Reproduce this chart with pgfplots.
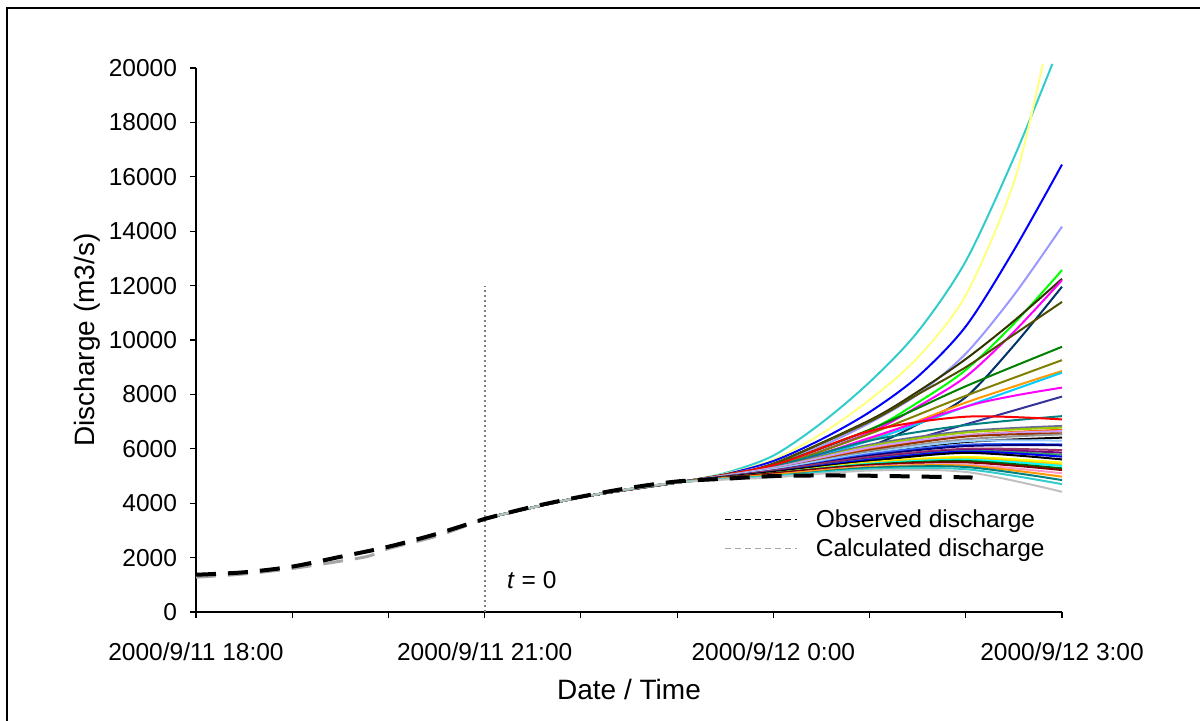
\documentclass[border=0pt]{standalone}
\usepackage{fontspec}
\setmainfont{Liberation Sans}
\usepackage{pgfplots}
\pgfplotsset{compat=1.18}

% Excel-style palette
\definecolor{xcyan}{HTML}{33CCCC}
\definecolor{xpaleyel}{HTML}{FFFF80}
\definecolor{xblue}{HTML}{0000FF}
\definecolor{xlav}{HTML}{9999FF}
\definecolor{xlime}{HTML}{00FF00}
\definecolor{xdarkol}{HTML}{333300}
\definecolor{xmag}{HTML}{FF00FF}
\definecolor{xdteal}{HTML}{003366}
\definecolor{xbrol}{HTML}{4D4D00}
\definecolor{xgreen}{HTML}{008000}
\definecolor{xolive}{HTML}{808000}
\definecolor{xorange}{HTML}{FF9900}
\definecolor{xsky}{HTML}{00CCFF}
\definecolor{xslate}{HTML}{333399}
\definecolor{xteal}{HTML}{008080}
\definecolor{xred}{HTML}{FF0000}
\definecolor{xgblue}{HTML}{666699}
\definecolor{xyg}{HTML}{99CC00}
\definecolor{xlpur}{HTML}{CC99FF}
\definecolor{xbrown}{HTML}{993300}
\definecolor{xgray}{HTML}{969696}
\definecolor{xroyal}{HTML}{3366FF}
\definecolor{xnavy}{HTML}{000080}
\definecolor{xpurple}{HTML}{800080}
\definecolor{xyellow}{HTML}{FFFF00}
\definecolor{xaqua}{HTML}{00FFFF}
\definecolor{xmaroon}{HTML}{800000}
\definecolor{xpink}{HTML}{FF99CC}
\definecolor{xlgray}{HTML}{C0C0C0}
\definecolor{xsea}{HTML}{339966}
\definecolor{xplum}{HTML}{993366}
\definecolor{xgold}{HTML}{FFCC00}
\definecolor{xlblue}{HTML}{99CCFF}
\definecolor{xdgreen}{HTML}{006600}
\definecolor{xdorange}{HTML}{FF6600}
\definecolor{calcgray}{HTML}{A6A6A6}

\begin{document}
\begin{tikzpicture}
\begin{axis}[
    scale only axis,
    width=433pt, height=272pt,
    xmin=0, xmax=9, ymin=0, ymax=20000,
    clip=false,
    axis x line*=bottom, axis y line*=left,
    axis line style={black, line width=0.6pt},
    xtick={0,...,9},
    xticklabels={2000/9/11 18:00,,,2000/9/11 21:00,,,2000/9/12 0:00,,,2000/9/12 3:00},
    ytick={0,2000,...,20000},
    scaled y ticks=false,
    yticklabel style={/pgf/number format/1000 sep={}, xshift=-3pt},
    xticklabel style={yshift=-9pt},
    /pgf/number format/assume math mode=true,
    tick align=outside, major tick length=3pt,
    tick style={black, line width=0.6pt},
    tick label style={font=\fontsize{12.25}{14}\selectfont},
    label style={font=\fontsize{14}{16}\selectfont},
    xlabel={Date / Time}, ylabel={Discharge (m3/s)},
    xlabel style={at={(axis description cs:0.5,-0.143)}, anchor=center},
    ylabel style={at={(axis description cs:-0.125,0.5)}, anchor=center},
    legend style={at={(axis cs:5.49,3930)}, anchor=north west, draw=none, fill=none,
        inner sep=0pt, row sep=0pt, font=\fontsize{12.25}{14}\selectfont,
        /tikz/every odd column/.append style={column sep=7pt}},
    legend cell align=left,
    reverse legend,
    ens/.style={smooth, line width=1pt, forget plot},
]

% ensemble forecasts from t = 0
\addplot[ens, xcyan] coordinates {(3,3440)(4,4220)(5,4760)(5.5,5110)(6,5750)(6.5,6950)(7,8450)(7.5,10300)(8,12900)(8.5,16700)(8.9,20150)};
\addplot[ens, xpaleyel] coordinates {(3,3440)(4,4220)(5,4760)(5.5,5080)(6,5600)(6.5,6550)(7,7800)(7.5,9350)(8,11650)(8.5,15800)(8.8,20150)};
\addplot[ens, xblue] coordinates {(3,3440)(4,4220)(5,4760)(5.5,5060)(6,5550)(6.5,6350)(7,7350)(7.5,8650)(8,10500)(8.5,13300)(9,16450)};
\addplot[ens, xlav] coordinates {(3,3440)(4,4220)(5,4760)(5.5,5040)(6,5450)(6.5,6100)(7,6950)(7.5,8000)(8,9500)(8.5,11650)(9,14170)};
\addplot[ens, xlime] coordinates {(3,3440)(4,4220)(5,4760)(5.5,5030)(6,5400)(7,6700)(7.5,7700)(8,8900)(8.5,10600)(9,12570)};
\addplot[ens, xdarkol] coordinates {(3,3440)(4,4220)(5,4760)(5.5,5050)(6,5450)(7,7050)(7.5,8100)(8,9300)(8.5,10700)(9,12250)};
\addplot[ens, xmag] coordinates {(3,3440)(4,4220)(5,4760)(6,5350)(7,6600)(7.5,7550)(8,8650)(8.5,10300)(9,12200)};
\addplot[ens, xdteal] coordinates {(3,3440)(4,4220)(5,4760)(6,5200)(7,6100)(7.5,6900)(8,7900)(8.5,9800)(9,11960)};
\addplot[ens, xbrol] coordinates {(3,3440)(4,4220)(5,4760)(5.5,5050)(6,5450)(7,7000)(7.5,8000)(8,9000)(8.5,10200)(9,11400)};
\addplot[ens, xgreen] coordinates {(3,3440)(4,4220)(5,4760)(5.5,5030)(6,5400)(7,6700)(8,8300)(9,9750)};
\addplot[ens, xolive] coordinates {(3,3440)(4,4220)(5,4760)(6,5350)(7,6550)(8,7950)(9,9260)};
\addplot[ens, xorange] coordinates {(3,3440)(4,4220)(5,4760)(6,5300)(7,6350)(8,7700)(9,8860)};
\addplot[ens, xsky] coordinates {(3,3440)(4,4220)(5,4760)(6,5300)(7,6300)(8,7550)(9,8800)};
\addplot[ens, xmag] coordinates {(3,3440)(4,4220)(5,4760)(6,5300)(7,6400)(8,7550)(8.5,7950)(9,8250)};
\addplot[ens, xslate] coordinates {(3,3440)(4,4220)(5,4760)(6,5200)(7,5900)(8,6900)(9,7920)};
\addplot[ens, xteal] coordinates {(3,3440)(4,4220)(5,4760)(6,5350)(7,6300)(8,6870)(9,7200)};
\addplot[ens, xred] coordinates {(3,3440)(4,4220)(5,4760)(6,5400)(7,6650)(8,7180)(9,7080)};
\addplot[ens, xgblue] coordinates {(3,3440)(4,4220)(5,4760)(6,5300)(7,6150)(8,6650)(9,6840)};
\addplot[ens, xyg] coordinates {(3,3440)(4,4220)(5,4760)(6,5300)(7,6100)(8,6600)(9,6780)};
\addplot[ens, xdorange] coordinates {(3,3440)(4,4220)(5,4760)(6,5250)(7,6000)(8,6500)(9,6700)};
\addplot[ens, xlpur] coordinates {(3,3440)(4,4220)(5,4760)(6,5300)(7,6050)(8,6500)(9,6650)};
\addplot[ens, xbrown] coordinates {(3,3440)(4,4220)(5,4760)(6,5250)(7,5950)(8,6450)(9,6570)};
\addplot[ens, xgray] coordinates {(3,3440)(4,4220)(5,4760)(6,5250)(7,5900)(8,6350)(9,6530)};
\addplot[ens, black] coordinates {(3,3440)(4,4220)(5,4760)(6,5200)(7,5850)(8,6250)(9,6410)};
\addplot[ens, xlblue] coordinates {(3,3440)(4,4220)(5,4760)(6,5250)(7,5850)(8,6280)(9,6300)};
\addplot[ens, xroyal] coordinates {(3,3440)(4,4220)(5,4760)(6,5200)(7,5800)(8,6150)(9,6160)};
\addplot[ens, xnavy] coordinates {(3,3440)(4,4220)(5,4760)(6,5200)(7,5750)(8,6100)(9,6130)};
\addplot[ens, xplum] coordinates {(3,3440)(4,4220)(5,4760)(6,5200)(7,5700)(8,6000)(9,5950)};
\addplot[ens, xpurple] coordinates {(3,3440)(4,4220)(5,4760)(6,5150)(7,5650)(8,5950)(9,5860)};
\addplot[ens, xsea] coordinates {(3,3440)(4,4220)(5,4760)(6,5150)(7,5620)(8,5920)(9,5780)};
\addplot[ens, xblue] coordinates {(3,3440)(4,4220)(5,4760)(6,5150)(7,5600)(8,5900)(9,5710)};
\addplot[ens, black] coordinates {(3,3440)(4,4220)(5,4760)(6,5150)(7,5550)(8,5850)(9,5610)};
\addplot[ens, xyellow] coordinates {(3,3440)(4,4220)(5,4760)(6,5100)(7,5500)(8,5700)(9,5490)};
\addplot[ens, xgold] coordinates {(3,3440)(4,4220)(5,4760)(6,5100)(7,5480)(8,5650)(9,5420)};
\addplot[ens, xaqua] coordinates {(3,3440)(4,4220)(5,4760)(6,5100)(7,5450)(8,5600)(9,5370)};
\addplot[ens, xdgreen] coordinates {(3,3440)(4,4220)(5,4760)(6,5100)(7,5420)(8,5550)(9,5280)};
\addplot[ens, xmaroon] coordinates {(3,3440)(4,4220)(5,4760)(6,5100)(7,5400)(8,5500)(9,5220)};
\addplot[ens, xpink] coordinates {(3,3440)(4,4220)(5,4760)(6,5050)(7,5350)(8,5420)(9,5100)};
\addplot[ens, xorange] coordinates {(3,3440)(4,4220)(5,4760)(6,5050)(7,5330)(8,5380)(9,4975)};
\addplot[ens, xteal] coordinates {(3,3440)(4,4220)(5,4760)(6,5000)(7,5300)(8,5330)(9,4850)};
\addplot[ens, xcyan] coordinates {(3,3440)(4,4220)(5,4760)(6,5000)(7,5250)(8,5250)(9,4700)};
\addplot[ens, xlgray] coordinates {(3,3440)(4,4220)(5,4760)(6,4950)(7,5200)(8,5150)(9,4420)};

% t = 0 marker
\addplot[forget plot, gray, line width=1pt, dash pattern=on 1pt off 1.5pt] coordinates {(3,0)(3,12000)};

% calculated discharge before t = 0
\addplot[calcgray, line width=1.5pt, dash pattern=on 10pt off 6pt, smooth,
    legend image code/.code={\draw[calcgray, line width=0.6pt, dash pattern=on 3pt off 2pt] (0pt,0pt) -- (36pt,0pt);}]
    coordinates {(0,1280)(0.5,1400)(1,1600)(1.5,1870)(1.8,2060)(2,2330)(2.5,2790)(3,3420)};
\addlegendentry{Calculated discharge}

% observed discharge
\addplot[black, line width=2pt, dash pattern=on 10pt off 6pt, smooth,
    legend image code/.code={\draw[black, line width=0.6pt, dash pattern=on 3pt off 2pt] (0pt,0pt) -- (36pt,0pt);}]
    coordinates {(0,1370)(0.5,1460)(1,1670)(1.5,2030)(2,2400)(2.5,2870)(3,3420)(3.5,3870)(4,4240)(4.5,4560)(5,4800)(5.5,4900)(6,5000)(6.5,5020)(7,5010)(7.5,4980)(8,4950)(8.07,4940)};
\addlegendentry{Observed discharge}

\node[font=\fontsize{12.25}{14}\selectfont] at (axis cs:3.49,1180) {\textit{t} = 0};
\end{axis}
% outer chart frame (cut at the right and bottom edges)
\draw[black, line width=1pt] (-94.5pt,-80pt) -- (-94.5pt,302pt) -- (520pt,302pt);
\pgfresetboundingbox
\useasboundingbox (-98pt,-54pt) rectangle (502pt,306pt);
\end{tikzpicture}
\end{document}
